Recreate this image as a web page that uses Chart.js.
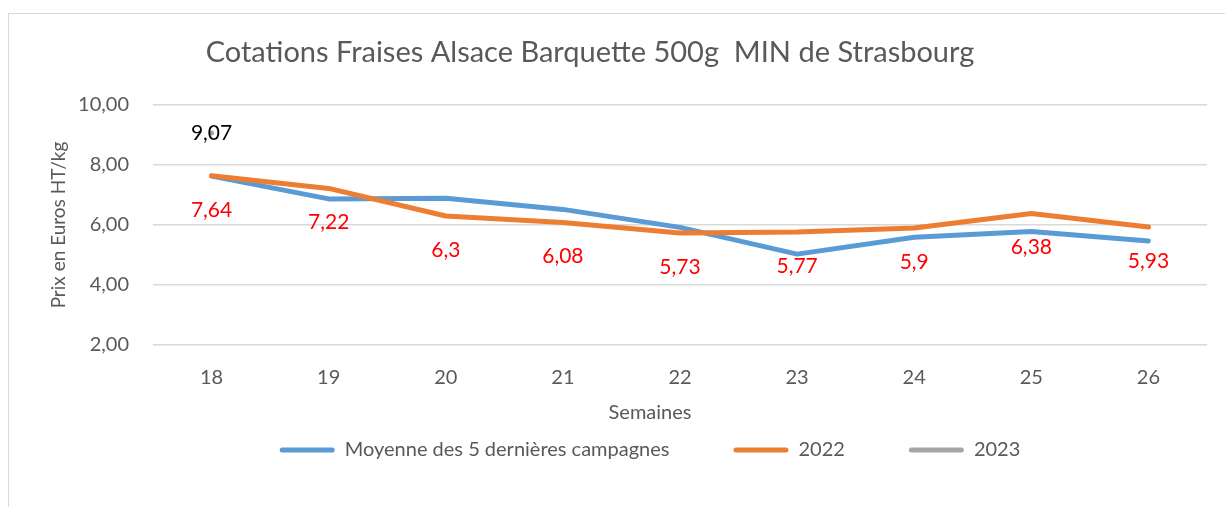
<!DOCTYPE html>
<html>
<head>
<meta charset="utf-8">
<script src="https://cdn.jsdelivr.net/npm/chart.js@4.4.0/dist/chart.umd.min.js"></script>
<style>
  html, body { margin: 0; padding: 0; background: #fff; overflow: hidden; }
  #frame { position: absolute; left: 8px; top: 13px; width: 1290px; height: 520px;
           border-left: 1px solid #d9d9d9; border-top: 1px solid #d9d9d9; }
  #wrap { position: absolute; left: 0; top: 0; width: 1282px; height: 505px; }
</style>
</head>
<body>
<div id="frame"><div id="wrap"><canvas id="chart"></canvas></div></div>
<script>
//Data
const weeks = ['18', '19', '20', '21', '22', '23', '24', '25', '26'];
const moyenne5 = [7.63, 6.87, 6.89, 6.52, 5.92, 5.03, 5.59, 5.78, 5.47];
const prix2022 = [7.64, 7.22, 6.3, 6.08, 5.73, 5.77, 5.9, 6.38, 5.93];
const prix2023 = [9.07, null, null, null, null, null, null, null, null];
const seriesNames = ['Moyenne des 5 dernières campagnes', '2022', '2023'];

const FONT = 'Lato';
const GREY_TEXT = '#595959';

// value labels under/on the points, Excel style "7,64"
const valueLabels = {
    id: 'valueLabels',
    afterDatasetsDraw(chart) {
        const ctx = chart.ctx;
        ctx.save();
        ctx.font = `21px ${FONT}`;
        ctx.textAlign = 'center';
        ctx.textBaseline = 'middle';
        chart.data.datasets.forEach((ds, i) => {
            if (!ds.labelColor) return;
            chart.getDatasetMeta(i).data.forEach((pt, j) => {
                const v = ds.data[j];
                if (v == null) return;
                ctx.fillStyle = ds.labelColor;
                ctx.fillText(String(v).replace('.', ','), pt.x, pt.y + ds.labelOffset);
            });
        });
        ctx.restore();
    }
};

// title sits a bit left of centre, axis title + legend centred on the
// whole frame, legend close under the axis title
const shiftBlocks = {
    id: 'shiftBlocks',
    afterLayout(chart) {
        const mid = chart.width / 2;

        const t = chart.titleBlock;
        const tw = t.right - t.left;
        t.left = mid - 60 - tw / 2;
        t.right = t.left + tw;

        // only moves the "Semaines" title, tick pixels are already configured
        const sx = chart.scales.x;
        const dx = mid - (sx.left + sx.right) / 2;
        sx.left += dx;
        sx.right += dx;

        const lg = chart.legend;
        const lw = lg.right - lg.left;
        lg.left = mid - lw / 2;
        lg.right = lg.left + lw;
        const h = lg.height;
        lg.top = chart.chartArea.bottom + 31;
        lg.bottom = lg.top + h;
    }
};

new Chart(document.getElementById('chart'), {
    type: 'line',
    data: {
        labels: weeks,
        datasets: [{
            label: seriesNames[0],
            data: moyenne5,
            borderColor: '#5b9bd5',
            backgroundColor: '#5b9bd5',
            borderWidth: 5,
            order: 1
        }, {
            label: seriesNames[1],
            data: prix2022,
            borderColor: '#ed7d31',
            backgroundColor: '#ed7d31',
            borderWidth: 5,
            order: 0,
            labelColor: '#ff0000',
            labelOffset: 34
        }, {
            label: seriesNames[2],
            data: prix2023,
            borderColor: '#a5a5a5',
            backgroundColor: '#a5a5a5',
            borderWidth: 5,
            order: 2,
            labelColor: '#000000',
            labelOffset: 0
        }]
    },
    options: {
        responsive: true,
        maintainAspectRatio: false,
        animation: false,
        elements: {
            point: { radius: 0, hoverRadius: 0 },
            line: { tension: 0, borderCapStyle: 'round', borderJoinStyle: 'round' }
        },
        layout: { padding: { left: 0, right: 84, top: 0, bottom: 0 } },
        plugins: {
            tooltip: { enabled: false },
            title: {
                display: true,
                text: 'Cotations Fraises Alsace Barquette 500g  MIN de Strasbourg',
                color: GREY_TEXT,
                font: { family: FONT, size: 29, weight: 'normal' },
                padding: { top: 21.6, bottom: 34.6 }
            },
            legend: {
                position: 'bottom',
                labels: {
                    color: GREY_TEXT,
                    font: { family: FONT, size: 20 },
                    boxWidth: 55,
                    boxHeight: 5,
                    useBorderRadius: true,
                    borderRadius: 2.5,
                    padding: 64,
                    sort: (a, b) => a.datasetIndex - b.datasetIndex,
                    generateLabels: (chart) => {
                        const items = Chart.defaults.plugins.legend.labels.generateLabels(chart);
                        items.forEach(it => { it.lineWidth = 0; });
                        return items;
                    }
                }
            }
        },
        scales: {
            x: {
                offset: true,
                grid: { display: false, drawTicks: false },
                border: { display: false },
                ticks: { color: GREY_TEXT, font: { family: FONT, size: 20 }, padding: 21 },
                title: {
                    display: true,
                    text: 'Semaines',
                    color: GREY_TEXT,
                    font: { family: FONT, size: 20 },
                    padding: { top: -10, bottom: 0 }
                }
            },
            y: {
                min: 2,
                max: 10,
                grid: { color: '#d9d9d9', lineWidth: 1.5, drawTicks: false },
                border: { display: false },
                ticks: {
                    stepSize: 2,
                    color: GREY_TEXT,
                    font: { family: FONT, size: 20 },
                    padding: 24,
                    callback: (v) => v.toFixed(2).replace('.', ',')
                },
                title: {
                    display: true,
                    text: 'Prix en Euros HT/kg',
                    color: GREY_TEXT,
                    font: { family: FONT, size: 19 },
                    padding: { top: 38, bottom: 0 }
                },
                afterFit: (scale) => { scale.width = 144; }
            }
        }
    },
    plugins: [valueLabels, shiftBlocks]
});
</script>
</body>
</html>
